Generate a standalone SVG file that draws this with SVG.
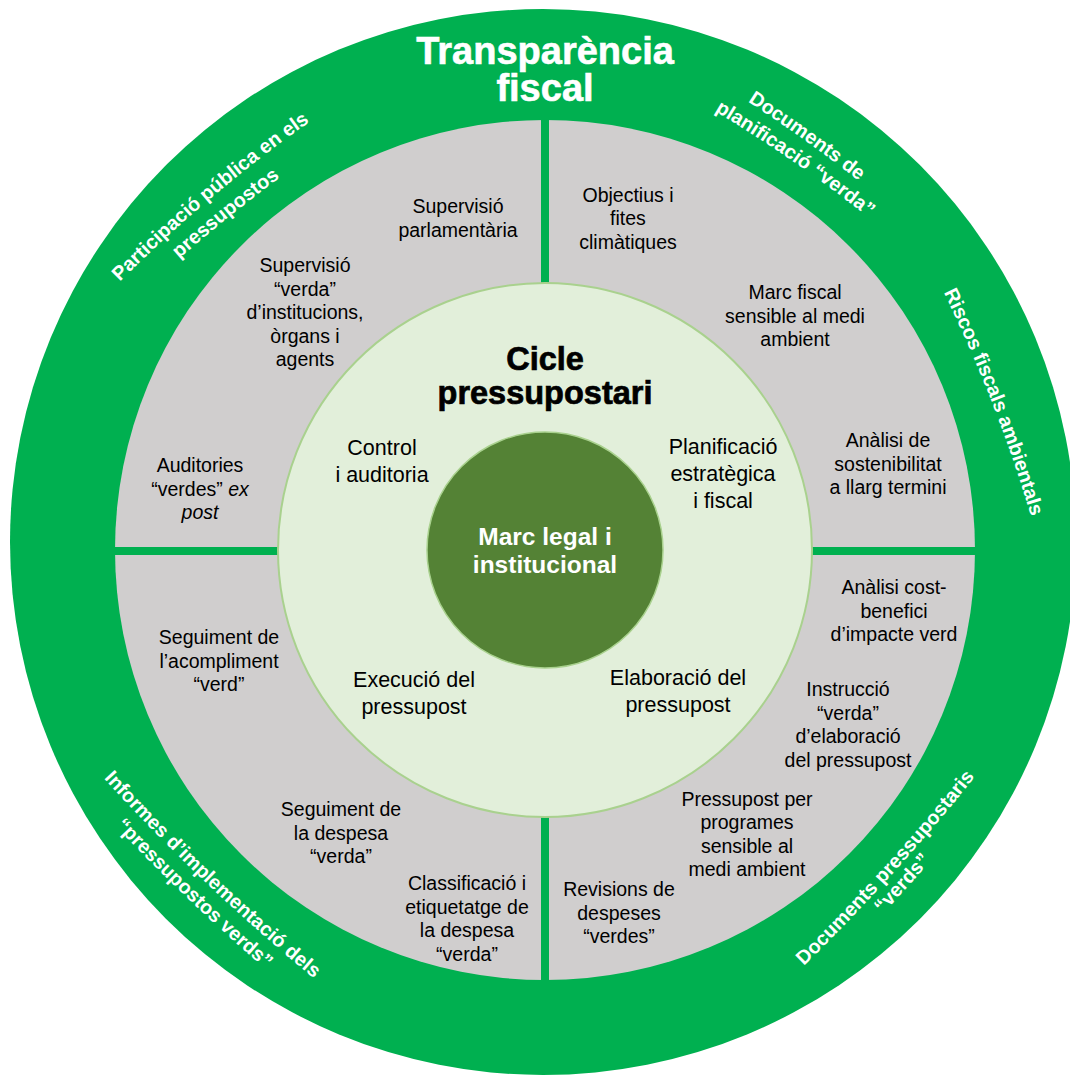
<svg xmlns="http://www.w3.org/2000/svg" width="1070" height="1075" viewBox="0 0 1070 1075">
<style>
.lbl{font-family:"Liberation Sans",Arial,sans-serif;font-size:19.5px;fill:#000;text-anchor:middle}
.inr{font-family:"Liberation Sans",Arial,sans-serif;font-size:21.5px;fill:#000;text-anchor:middle}
.ring{font-family:"Liberation Sans",Arial,sans-serif;font-size:19.8px;font-weight:bold;fill:#fff;text-anchor:middle}
.big{font-family:"Liberation Sans",Arial,sans-serif;font-weight:bold;text-anchor:middle}
.div{fill:#00B050}
</style>
<defs>
<path id="pA1" d="M87.8,314.8 Q205.0,190.1 347.8,95.8"/>
<path id="pA2" d="M102.7,331.5 Q222.4,209.2 367.3,118.1"/>
<path id="pB1" d="M659.9,49.3 Q809.9,131.8 936.7,246.7"/>
<path id="pB2" d="M647.8,73.1 Q799.0,153.5 927.4,266.7"/>
<path id="pC" d="M921.0,248.0 Q1001.3,399.1 1044.4,564.6"/>
<path id="pD1" d="M773.0,995.3 Q897.4,878.7 1001.0,743.3"/>
<path id="pD2" d="M787.8,1008.7 Q912.2,892.1 1015.8,756.7"/>
<path id="pE1" d="M87.0,759.8 Q200.5,887.2 333.2,994.2"/>
<path id="pE2" d="M70.5,777.2 Q184.0,904.6 316.7,1011.6"/>
</defs>

<g id="outer-ring">
<circle cx="543" cy="542" r="533" fill="#00B050"/>
</g>
<g id="gray-ring">
<circle cx="545" cy="550" r="430" fill="#D0CECE"/>
</g>
<g id="connectors">
<rect class="div" x="541" y="118" width="8" height="170"/>
<rect class="div" x="541" y="812" width="8" height="170"/>
<rect class="div" x="112" y="547" width="170" height="8"/>
<rect class="div" x="808" y="547" width="170" height="8"/>
</g>
<g id="cycle">
<circle cx="545" cy="550" r="267" fill="#E2EFDA" stroke="#A9D18E" stroke-width="2"/>
</g>
<g id="core">
<circle cx="545" cy="550" r="118" fill="#548235" stroke="#A9D18E" stroke-width="1.5"/>
<text class="big" font-size="24.5" fill="#fff"><tspan x="545" y="545">Marc legal i</tspan><tspan x="545" y="573">institucional</tspan></text>
</g>

<g id="title">
<text class="big" font-size="38" fill="#fff" stroke="#fff" stroke-width="0.6"><tspan x="545" y="64">Transparència</tspan><tspan x="545" y="101">fiscal</tspan></text>
</g>
<g id="cycle-title">
<text class="big" font-size="32.5" fill="#000" stroke="#000" stroke-width="0.7"><tspan x="545" y="370">Cicle</tspan><tspan x="545" y="404">pressupostari</tspan></text>
</g>

<g id="ring-participacio">
<text class="ring"><textPath href="#pA1" startOffset="50%">Participació pública en els</textPath></text>
<text class="ring"><textPath href="#pA2" startOffset="50%">pressupostos</textPath></text>
</g>
<g id="ring-documents-planificacio">
<text class="ring"><textPath href="#pB1" startOffset="50%">Documents de</textPath></text>
<text class="ring"><textPath href="#pB2" startOffset="50%">planificació “verda”</textPath></text>
</g>
<g id="ring-riscos">
<text class="ring"><textPath href="#pC" startOffset="50%">Riscos fiscals ambientals</textPath></text>
</g>
<g id="ring-documents-pressupostaris">
<text class="ring"><textPath href="#pD1" startOffset="50%">Documents pressupostaris</textPath></text>
<text class="ring"><textPath href="#pD2" startOffset="50%">“verds”</textPath></text>
</g>
<g id="ring-informes">
<text class="ring"><textPath href="#pE1" startOffset="50%">Informes d’implementació dels</textPath></text>
<text class="ring"><textPath href="#pE2" startOffset="50%">“pressupostos verds”</textPath></text>
</g>

<g id="control">
<text class="inr"><tspan x="382" y="455">Control</tspan><tspan x="382" y="482">i auditoria</tspan></text>
</g>
<g id="planificacio">
<text class="inr"><tspan x="723" y="454">Planificació</tspan><tspan x="723" y="481">estratègica</tspan><tspan x="723" y="508">i fiscal</tspan></text>
</g>
<g id="execucio">
<text class="inr"><tspan x="414" y="687">Execució del</tspan><tspan x="414" y="714">pressupost</tspan></text>
</g>
<g id="elaboracio">
<text class="inr"><tspan x="678" y="685">Elaboració del</tspan><tspan x="678" y="712">pressupost</tspan></text>
</g>

<g id="supervisio-parlamentaria">
<text class="lbl"><tspan x="458" y="213">Supervisió</tspan><tspan x="458" y="236.5">parlamentària</tspan></text>
</g>
<g id="objectius">
<text class="lbl"><tspan x="628" y="201.5">Objectius i</tspan><tspan x="628" y="225">fites</tspan><tspan x="628" y="248.5">climàtiques</tspan></text>
</g>
<g id="supervisio-verda">
<text class="lbl"><tspan x="305" y="272">Supervisió</tspan><tspan x="305" y="295.5">“verda”</tspan><tspan x="305" y="319">d’institucions,</tspan><tspan x="305" y="342.5">òrgans i</tspan><tspan x="305" y="366">agents</tspan></text>
</g>
<g id="marc-fiscal">
<text class="lbl"><tspan x="795" y="299">Marc fiscal</tspan><tspan x="795" y="322.5">sensible al medi</tspan><tspan x="795" y="346">ambient</tspan></text>
</g>
<g id="auditories">
<text class="lbl"><tspan x="200" y="472">Auditories</tspan><tspan x="200" y="495.5">“verdes” <tspan font-style="italic">ex</tspan></tspan><tspan x="200" y="519" font-style="italic">post</tspan></text>
</g>
<g id="analisi-sostenibilitat">
<text class="lbl"><tspan x="888" y="447">Anàlisi de</tspan><tspan x="888" y="470.5">sostenibilitat</tspan><tspan x="888" y="494">a llarg termini</tspan></text>
</g>
<g id="seguiment-acompliment">
<text class="lbl"><tspan x="219" y="644">Seguiment de</tspan><tspan x="219" y="667.5">l’acompliment</tspan><tspan x="219" y="691">“verd”</tspan></text>
</g>
<g id="analisi-cost">
<text class="lbl"><tspan x="894" y="594">Anàlisi cost-</tspan><tspan x="894" y="617.5">benefici</tspan><tspan x="894" y="641">d’impacte verd</tspan></text>
</g>
<g id="instruccio">
<text class="lbl"><tspan x="848" y="696">Instrucció</tspan><tspan x="848" y="719.5">“verda”</tspan><tspan x="848" y="743">d’elaboració</tspan><tspan x="848" y="766.5">del pressupost</tspan></text>
</g>
<g id="seguiment-despesa">
<text class="lbl"><tspan x="341" y="816">Seguiment de</tspan><tspan x="341" y="839.5">la despesa</tspan><tspan x="341" y="863">“verda”</tspan></text>
</g>
<g id="pressupost-programes">
<text class="lbl"><tspan x="747" y="805.5">Pressupost per</tspan><tspan x="747" y="829">programes</tspan><tspan x="747" y="852.5">sensible al</tspan><tspan x="747" y="876">medi ambient</tspan></text>
</g>
<g id="classificacio">
<text class="lbl"><tspan x="467" y="890">Classificació i</tspan><tspan x="467" y="913.5">etiquetatge de</tspan><tspan x="467" y="937">la despesa</tspan><tspan x="467" y="960.5">“verda”</tspan></text>
</g>
<g id="revisions">
<text class="lbl"><tspan x="619" y="896">Revisions de</tspan><tspan x="619" y="919.5">despeses</tspan><tspan x="619" y="943">“verdes”</tspan></text>
</g>
</svg>
